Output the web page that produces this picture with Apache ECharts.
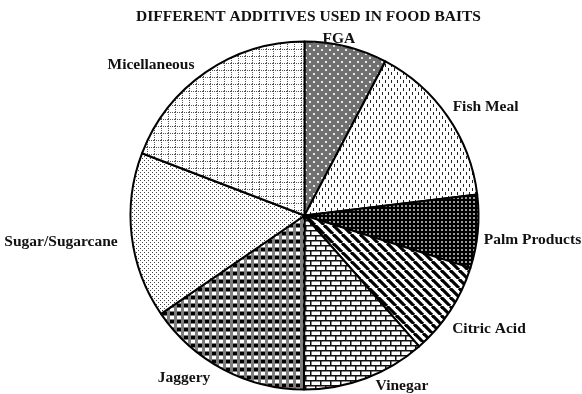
<!DOCTYPE html>
<html>
<head>
<meta charset="utf-8">
<script src="https://cdn.jsdelivr.net/npm/echarts@6/dist/echarts.min.js"></script>
<style>html,body{margin:0;padding:0;background:#fff}#c{width:582px;height:394px}</style>
</head>
<body>
<div id="c"></div>
<script>
const titleText = 'DIFFERENT ADDITIVES USED IN FOOD BAITS';
const categories = ['FGA', 'Fish Meal', 'Palm Products', 'Citric Acid', 'Vinegar', 'Jaggery', 'Sugar/Sugarcane', 'Micellaneous'];
const values = [7.7, 15.4, 6.8, 8.7, 11.5, 15.4, 15.4, 19.2];

// label nudges (style only)
const labelNudge = [[-25, -2], [0, -6], [0, 8], [-3, 15], [8, 2], [-10, 3], [-8, 5], [-8, -2]];

function tile(w, h, draw) {
  const c = document.createElement('canvas');
  c.width = w; c.height = h;
  const g = c.getContext('2d');
  draw(g, w, h);
  return { image: c, repeat: 'repeat' };
}
const patterns = [
  // FGA: gray with white dots
  tile(8, 8, (g) => { g.fillStyle = '#707070'; g.fillRect(0,0,8,8); g.fillStyle = '#e8e8e8'; g.fillRect(1,1,2,2); g.fillRect(5,5,2,2); }),
  // Fish Meal: white with vertical dashes
  tile(6, 8, (g) => { g.fillStyle = '#fff'; g.fillRect(0,0,6,8); g.fillStyle = '#222'; g.fillRect(1,0,1,3); g.fillRect(4,4,1,3); }),
  // Palm: black with grey dots
  tile(4, 4, (g) => { g.fillStyle = '#000'; g.fillRect(0,0,4,4); g.fillStyle = '#9a9a9a'; g.fillRect(1,1,2,2); }),
  // Citric: diagonal stripes
  tile(9, 9, (g) => { g.fillStyle = '#fff'; g.fillRect(0,0,9,9); g.strokeStyle = '#000'; g.lineWidth = 3.2;
    for (let k = -18; k <= 18; k += 9) { g.beginPath(); g.moveTo(k, 0); g.lineTo(k + 9, 9); g.stroke(); } }),
  // Vinegar: bricks
  tile(10, 10, (g) => { g.fillStyle = '#fff'; g.fillRect(0,0,10,10); g.fillStyle = '#111';
    g.fillRect(0,0,10,1.5); g.fillRect(0,5,10,1.5); g.fillRect(0,0,1.5,5); g.fillRect(5,5,1.5,5); }),
  // Jaggery: gray weave with black and white squares
  tile(7, 8, (g) => { g.fillStyle = '#7e7e7e'; g.fillRect(0,0,7,8); g.fillStyle = '#000'; g.fillRect(2,0,4,3); g.fillStyle = '#fff'; g.fillRect(2,4,4,3); }),
  // Sugar: fine dots
  tile(4, 4, (g) => { g.fillStyle = '#fff'; g.fillRect(0,0,4,4); g.fillStyle = '#444'; g.fillRect(0,0,1,1); g.fillRect(2,2,1,1); }),
  // Micellaneous: dotted grid
  tile(7, 7, (g) => { g.fillStyle = '#fff'; g.fillRect(0,0,7,7); g.fillStyle = '#555';
    for (let i = 0; i < 7; i += 2) { g.fillRect(i,0,1,1); g.fillRect(0,i,1,1); } })
];

const chart = echarts.init(document.getElementById('c'), null, { renderer: 'canvas' });
chart.setOption({
  backgroundColor: '#fff',
  animation: false,
  title: {
    text: titleText, left: 131, top: 4,
    textStyle: { fontFamily: 'Liberation Serif', fontWeight: 'bold', fontSize: 15.5, color: '#111' }
  },
  series: [{
    type: 'pie',
    center: [304.5, 215.5],
    radius: 174,
    startAngle: 90,
    clockwise: true,
    avoidLabelOverlap: false,
    itemStyle: { borderColor: '#000', borderWidth: 2 },
    label: {
      show: true, position: 'outside', distanceToLabelLine: 0,
      fontFamily: 'Liberation Serif', fontWeight: 'bold', fontSize: 15.5, color: '#111'
    },
    labelLine: { show: false, length: 6, length2: 0 },
    labelLayout: (p) => ({ dx: labelNudge[p.dataIndex][0], dy: labelNudge[p.dataIndex][1] }),
    emphasis: { disabled: true },
    data: categories.map((n, i) => ({ name: n, value: values[i], itemStyle: { color: patterns[i] } }))
  }]
});
</script>
</body>
</html>
